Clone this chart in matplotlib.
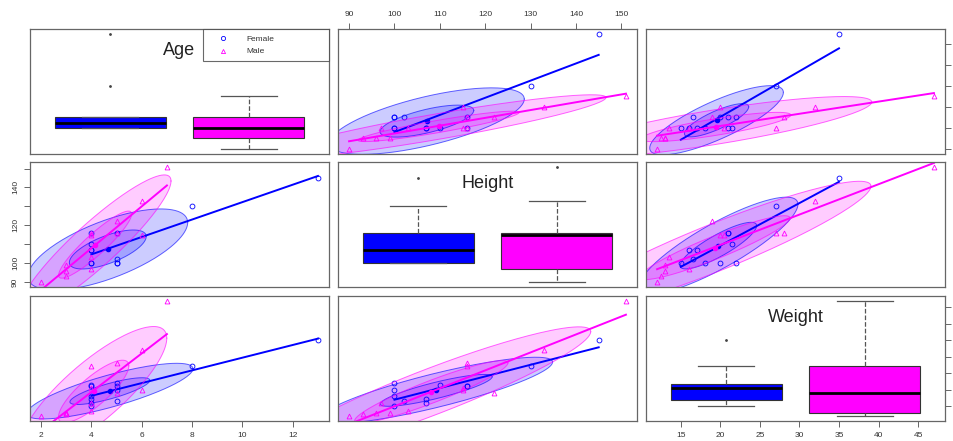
import numpy as np
import matplotlib
matplotlib.use("Agg")
import matplotlib.pyplot as plt
from matplotlib.lines import Line2D

plt.rcParams["font.family"] = ["Liberation Sans", "DejaVu Sans"]

# ---- data (hidden duplicates estimated) ----
groups = ["Female", "Male"]
colors = ["#0000FF", "#FF00FF"]
markers = ["o", "^"]
var_names = ["Age", "Height", "Weight"]

female_age = [13, 8, 5, 5, 5, 4, 4, 4, 4, 4, 4, 5]
female_height = [145, 130, 100, 102, 100, 100, 107, 116, 107, 110, 100, 116]
female_weight = [35, 27, 22, 16.5, 20, 15, 17, 21, 16, 21.5, 18, 21]

male_age = [7, 6, 6, 5, 4, 4, 3, 2, 3, 3, 4, 4, 5]
male_height = [151, 133, 115, 122, 116, 103, 99, 90, 93, 96, 97, 115, 116]
male_weight = [47, 32, 20, 19, 27, 13.5, 13, 12, 12.5, 13, 16, 20.5, 28]

age_ticks = [2, 4, 6, 8, 10, 12]
height_ticks = [90, 100, 110, 120, 130, 140, 150]
height_left_labels = ["90", "100", "", "120", "", "140", ""]
weight_ticks = [15, 20, 25, 30, 35, 40, 45]
ellipse_levels = [0.5, 0.95]

data = {
    "Female": {"Age": female_age, "Height": female_height, "Weight": female_weight},
    "Male": {"Age": male_age, "Height": male_height, "Weight": male_weight},
}
ticks = {"Age": age_ticks, "Height": height_ticks, "Weight": weight_ticks}


def fivenum(v):
    x = np.sort(np.asarray(v, float))
    n = len(x)
    n4 = np.floor((n + 3) / 2) / 2
    d = np.array([1, n4, (n + 1) / 2, n + 1 - n4, n])
    return 0.5 * (x[np.floor(d).astype(int) - 1] + x[np.ceil(d).astype(int) - 1])


def box_stats(v):
    v = np.asarray(v, float)
    mn, q1, med, q3, mx = fivenum(v)
    iqr = q3 - q1
    ok = (v >= q1 - 1.5 * iqr) & (v <= q3 + 1.5 * iqr)
    return dict(med=med, q1=q1, q3=q3, whislo=v[ok].min(), whishi=v[ok].max(), fliers=v[~ok])


def cov_trob(x, nu=5, maxit=25, tol=0.01):
    # robust location/scatter from a multivariate t fit
    n, p = x.shape
    loc = x.mean(0)
    w = np.ones(n)
    for _ in range(maxit):
        w0 = w
        X = x - loc
        sw = np.sqrt(w / w.sum())
        _, d, vt = np.linalg.svd(sw[:, None] * X, full_matrices=False)
        wX = X @ vt.T / d
        Q = (wX ** 2).sum(1)
        w = (nu + p) / (nu + Q)
        loc = (w[:, None] * x).sum(0) / w.sum()
        if np.all(np.abs(w - w0) < tol):
            break
    cov = (np.sqrt(w)[:, None] * X).T @ (np.sqrt(w)[:, None] * X) / n
    return loc, cov


lims = {}
for name in var_names:
    vals = data["Female"][name] + data["Male"][name]
    lo, hi = min(vals), max(vals)
    pad = 0.04 * (hi - lo)
    lims[name] = (lo - pad, hi + pad)

W, H = 954, 441
lefts = [30, 338, 646]
tops = [29, 162, 296]
pw, ph = 299, 124.5

fig = plt.figure(figsize=(W / 100, H / 100), dpi=100)
tick_kw = dict(length=4, width=0.7, color="#666666", labelsize=6, labelcolor="#333333", pad=4)

for i, vy in enumerate(var_names):
    for j, vx in enumerate(var_names):
        ax = fig.add_axes([lefts[j] / W, 1 - (tops[i] + ph) / H, pw / W, ph / H])
        for s in ax.spines.values():
            s.set_color("#666666")
            s.set_linewidth(0.9)
        ax.tick_params(which="both", bottom=False, left=False, top=False, right=False,
                       labelbottom=False, labelleft=False, labeltop=False, labelright=False)
        ax.set_ylim(lims[vy])

        if i == j:
            stats = [box_stats(data[g][vx]) for g in groups]
            bp = ax.bxp(stats, positions=[1, 2], widths=0.8, patch_artist=True,
                        boxprops=dict(edgecolor="#333333", linewidth=0.8),
                        medianprops=dict(color="black", linewidth=2),
                        whiskerprops=dict(color="#555555", linestyle="--", linewidth=0.9),
                        capprops=dict(color="#555555", linewidth=0.9),
                        flierprops=dict(marker=".", markersize=2, markerfacecolor="#444444",
                                        markeredgecolor="#444444"))
            for patch, c in zip(bp["boxes"], colors):
                patch.set_facecolor(c)
            ax.set_xlim(0.4225, 2.5775)
            ax.set_xticks([])
            ax.text(0.5, 0.83, vx, transform=ax.transAxes, ha="center", va="center",
                    fontsize=13, color="#222222")
            if i == 2:
                sec = ax.twiny()
                sec.set_xlim(lims[vx])
                sec.xaxis.set_ticks_position("bottom")
                sec.set_xticks(ticks[vx])
                sec.tick_params(axis="x", **tick_kw)
                for s in sec.spines.values():
                    s.set_visible(False)
        else:
            ax.set_xlim(lims[vx])
            for g, c, m in zip(groups, colors, markers):
                x = np.asarray(data[g][vx], float)
                y = np.asarray(data[g][vy], float)
                ax.plot(x, y, linestyle="none", marker=m, markersize=3.5, markerfacecolor="none",
                        markeredgecolor=c, markeredgewidth=0.6)
                b, a = np.polyfit(x, y, 1)
                xs = np.array([x.min(), x.max()])
                ax.plot(xs, a + b * xs, color=c, linewidth=1.4)
                center, shape = cov_trob(np.column_stack([x, y]))
                L = np.linalg.cholesky(shape)
                t = np.linspace(0, 2 * np.pi, 200)
                circ = np.vstack([np.cos(t), np.sin(t)])
                for lev in ellipse_levels:
                    r = np.sqrt(-2 * np.log(1 - lev))
                    e = center[:, None] + r * (L @ circ)
                    ax.fill(e[0], e[1], facecolor=c, alpha=0.2, edgecolor="none")
                    ax.plot(e[0], e[1], color=c, linewidth=0.7, alpha=0.6)
                ax.plot(center[0], center[1], marker="o", markersize=3, color=c)

            if i == 0 and j == 1:
                ax.tick_params(axis="x", top=True, labeltop=True, **tick_kw)
                ax.set_xticks(ticks[vx])
            if i == 2 and j == 0:
                ax.tick_params(axis="x", bottom=True, labelbottom=True, **tick_kw)
                ax.set_xticks(ticks[vx])
            if i == 1 and j == 0:
                ax.tick_params(axis="y", left=True, labelleft=True, labelrotation=90, **tick_kw)
                ax.set_yticks(ticks[vy])
                ax.set_yticklabels(height_left_labels, va="center")

        if j == 2 and i in (0, 2):
            ax.set_yticks(ticks[vy])
            ax.tick_params(axis="y", right=True, labelright=False, length=4, width=0.7,
                           color="#666666")

        if i == 0 and j == 0:
            handles = [Line2D([], [], linestyle="none", marker=m, markersize=3,
                              markerfacecolor="none", markeredgecolor=c, markeredgewidth=0.6)
                       for c, m in zip(colors, markers)]
            leg = ax.legend(handles, groups, loc="upper right", bbox_to_anchor=(0.58, 0.7, 0.42, 0.3),
                            mode="expand", fontsize=6, frameon=True, fancybox=False,
                            borderaxespad=0, handlelength=3.2, handletextpad=1.3,
                            labelspacing=0.6, borderpad=0.7)
            leg.get_frame().set_edgecolor("#444444")
            leg.get_frame().set_linewidth(0.8)
            for txt in leg.get_texts():
                txt.set_color("#333333")

fig.savefig("out.png", dpi=100)
